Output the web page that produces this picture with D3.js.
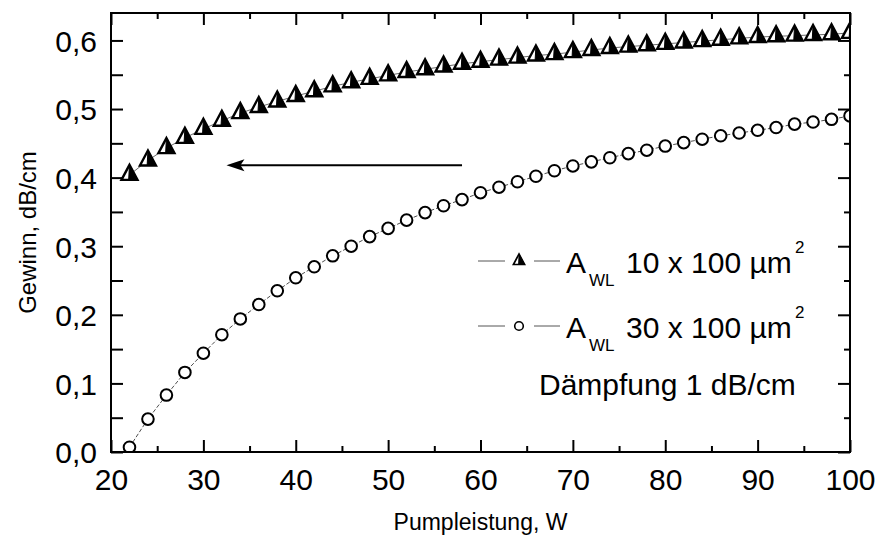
<!DOCTYPE html>
<html><head><meta charset="utf-8">
<script src="https://cdn.jsdelivr.net/npm/d3@7"></script>
<style>
html,body{margin:0;padding:0;background:#fff;}
text{font-family:"Liberation Sans",Arial,sans-serif;fill:#000;}
</style></head>
<body>
<svg id="chart" width="877" height="540"></svg>
<script>
// ---- data ----
const pumpPower = [22,24,26,28,30,32,34,36,38,40,42,44,46,48,50,52,54,56,58,60,62,64,66,68,70,72,74,76,78,80,82,84,86,88,90,92,94,96,98,100];
const gain10x100 = [0.404,0.425,0.443,0.458,0.471,0.483,0.494,0.503,0.511,0.519,0.526,0.533,0.539,0.544,0.549,0.554,0.558,0.562,0.566,0.569,0.572,0.575,0.578,0.580,0.583,0.586,0.589,0.591,0.593,0.595,0.597,0.599,0.601,0.603,0.605,0.606,0.607,0.608,0.609,0.611];
const gain30x100 = [0.007,0.048,0.083,0.116,0.144,0.171,0.194,0.215,0.235,0.254,0.270,0.286,0.300,0.314,0.326,0.338,0.349,0.359,0.368,0.378,0.386,0.394,0.402,0.410,0.417,0.423,0.429,0.435,0.440,0.446,0.451,0.456,0.461,0.465,0.469,0.473,0.478,0.481,0.485,0.490];
const xTicks = [20,30,40,50,60,70,80,90,100];
const xMinorTicks = [25,35,45,55,65,75,85,95];
const yTicks = [0,0.1,0.2,0.3,0.4,0.5,0.6];
const yMinorTicks = [0.05,0.15,0.25,0.35,0.45,0.55];
const arrowFrom = [58, 0.418];
const arrowTo = [32.5, 0.418];
const xDomain = [20, 100];
const yDomain = [0, 0.64];
const xTitle = "Pumpleistung, W";
const yTitle = "Gewinn, dB/cm";
const legendNames = ["10 x 100 \u00b5m", "30 x 100 \u00b5m"];
const noteText = "D\u00e4mpfung 1 dB/cm";

// ---- layout ----
const W = 877, H = 540;
const m = {left:111, top:13, right:27, bottom:88};
const iw = W - m.left - m.right, ih = H - m.top - m.bottom;
const svg = d3.select("#chart");
const g = svg.append("g").attr("transform", `translate(${m.left},${m.top})`);
const x = d3.scaleLinear().domain(xDomain).range([0, iw]);
const y = d3.scaleLinear().domain(yDomain).range([ih, 0]);

svg.append("defs").append("clipPath").attr("id","clip")
  .append("rect").attr("x",0).attr("y",0).attr("width",iw).attr("height",ih);

const fmt = d => d3.format(".1f")(d).replace(".", ",");

// axes (ticks inward)
const tickFont = "30px";
const axBottom = g.append("g").attr("transform",`translate(0,${ih})`)
  .call(d3.axisBottom(x).tickValues(xTicks).tickSize(-12).tickPadding(17).tickFormat(d3.format("d")));
const axBottomMinor = g.append("g").attr("transform",`translate(0,${ih})`)
  .call(d3.axisBottom(x).tickValues(xMinorTicks).tickSize(-6).tickFormat(""));
const axTop = g.append("g")
  .call(d3.axisTop(x).tickValues(xTicks).tickSize(-12).tickFormat(""));
const axTopMinor = g.append("g")
  .call(d3.axisTop(x).tickValues(xMinorTicks).tickSize(-6).tickFormat(""));
const axLeft = g.append("g")
  .call(d3.axisLeft(y).tickValues(yTicks).tickSize(-12).tickPadding(14).tickFormat(fmt));
const axLeftMinor = g.append("g")
  .call(d3.axisLeft(y).tickValues(yMinorTicks).tickSize(-12).tickFormat(""));
const axRight = g.append("g").attr("transform",`translate(${iw},0)`)
  .call(d3.axisRight(y).tickValues(yTicks).tickSize(-12).tickFormat(""));
const axRightMinor = g.append("g").attr("transform",`translate(${iw},0)`)
  .call(d3.axisRight(y).tickValues(yMinorTicks).tickSize(-6).tickFormat(""));

[axBottom,axBottomMinor,axTop,axTopMinor,axLeft,axLeftMinor,axRight,axRightMinor].forEach(a=>{
  a.select(".domain").remove();
  a.selectAll(".tick line").attr("stroke","#000").attr("stroke-width",2);
  a.selectAll("text").style("font-size",tickFont).style("font-family",'"Liberation Sans",Arial,sans-serif').attr("fill","#000");
});
axLeft.selectAll("text").attr("dy","0.36em");

// connecting lines
const line = d3.line().x((d,i)=>x(pumpPower[i])).y(d=>y(d));
const plot = g.append("g").attr("clip-path","url(#clip)");
plot.append("path").datum(gain10x100).attr("d",line).attr("fill","none").attr("stroke","#444").attr("stroke-width",0.8);
plot.append("path").datum(gain30x100).attr("d",line).attr("fill","none").attr("stroke","#222").attr("stroke-width",0.8).attr("stroke-dasharray","4,2");

// triangle marker
function triMarker(sel, s){
  const h = 15*s, hw = 8*s;
  const a = -h*2/3, b = h/3;
  sel.append("path").attr("d",`M0,${a}L${hw},${b}L${-hw},${b}Z`).attr("fill","#fff").attr("stroke","#000").attr("stroke-width",2.4*s).attr("stroke-linejoin","miter");
  sel.append("path").attr("d",`M0,${a}L${hw},${b}L${-hw*0.1},${b}Z`).attr("fill","#000").attr("stroke","#000").attr("stroke-width",1*s);
}
function circMarker(sel, r, sw){
  sel.append("circle").attr("r",r).attr("fill","#fff").attr("stroke","#000").attr("stroke-width",sw);
}

plot.selectAll(".circ").data(gain30x100).enter().append("g")
  .attr("transform",(d,i)=>`translate(${x(pumpPower[i])},${y(d)})`)
  .each(function(){ circMarker(d3.select(this), 5.8, 2); });
plot.selectAll(".tri").data(gain10x100).enter().append("g")
  .attr("transform",(d,i)=>`translate(${x(pumpPower[i])},${y(d)})`)
  .each(function(){ triMarker(d3.select(this), 1); });

// frame
g.append("rect").attr("x",0).attr("y",0).attr("width",iw).attr("height",ih)
  .attr("fill","none").attr("stroke","#000").attr("stroke-width",2);

// arrow
const ax1 = x(arrowFrom[0]), ax2 = x(arrowTo[0]), ay = y(arrowFrom[1]);
g.append("line").attr("x1",ax1).attr("x2",ax2+12).attr("y1",ay).attr("y2",ay).attr("stroke","#000").attr("stroke-width",2);
g.append("path").attr("d",`M${ax2},${ay}L${ax2+18},${ay-6}L${ax2+14},${ay}L${ax2+18},${ay+6}Z`).attr("fill","#000");

// axis titles
svg.append("text").attr("x", m.left + iw/2).attr("y", 530).attr("text-anchor","middle")
  .style("font-size","23px").text(xTitle);
svg.append("text").attr("transform",`translate(36,${m.top+ih/2}) rotate(-90)`).attr("text-anchor","middle")
  .style("font-size","24px").text(yTitle);

// legend
const legRows = [{ly:261, base:273}, {ly:326, base:338}];
legRows.forEach((r,i)=>{
  const lg = svg.append("g");
  lg.append("line").attr("x1",478).attr("x2",505).attr("y1",r.ly).attr("y2",r.ly).attr("stroke","#555").attr("stroke-width",1);
  lg.append("line").attr("x1",534).attr("x2",560).attr("y1",r.ly).attr("y2",r.ly).attr("stroke","#555").attr("stroke-width",1);
  const mk = lg.append("g").attr("transform",`translate(519,${r.ly})`);
  if(i===0) triMarker(mk, 0.7); else circMarker(mk, 4.3, 1.6);
  lg.append("text").attr("x",566).attr("y",r.base).style("font-size","30px").text("A");
  lg.append("text").attr("x",589).attr("y",r.base+13).style("font-size","17px").text("WL");
  lg.append("text").attr("x",626).attr("y",r.base).style("font-size","30px").text(legendNames[i]);
  lg.append("text").attr("x",795).attr("y",r.base-20).style("font-size","17px").text("2");
});
svg.append("text").attr("x",539).attr("y",395).style("font-size","30px").text(noteText);
</script>
</body></html>
